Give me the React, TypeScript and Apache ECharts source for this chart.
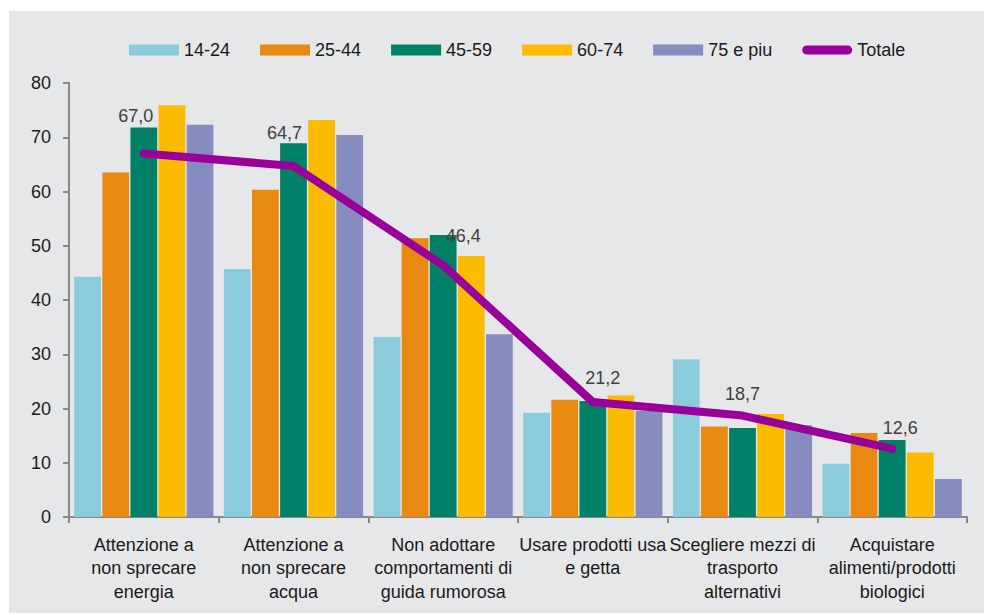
import React, { useEffect, useRef } from "react";
import * as echarts from "echarts";

const categories = [
  "Attenzione a\nnon sprecare\nenergia",
  "Attenzione a\nnon sprecare\nacqua",
  "Non adottare\ncomportamenti di\nguida rumorosa",
  "Usare prodotti usa\ne getta",
  "Scegliere mezzi di\ntrasporto\nalternativi",
  "Acquistare\nalimenti/prodotti\nbiologici",
];

const seriesNames = ["14-24", "25-44", "45-59", "60-74", "75 e piu"];
const v1424 = [44.3, 45.7, 33.2, 19.2, 29.1, 9.8];
const v2544 = [63.5, 60.3, 51.4, 21.6, 16.7, 15.5];
const v4559 = [71.8, 68.9, 52.0, 21.4, 16.4, 14.2];
const v6074 = [75.9, 73.2, 48.1, 22.4, 19.0, 11.9];
const v75 = [72.3, 70.4, 33.7, 19.6, 16.9, 7.0];
const totale = [67.0, 64.7, 46.4, 21.2, 18.7, 12.6];
const barColors = ["#8ccbdc", "#e88a12", "#008066", "#fbbb00", "#878cc0"];
const lineColor = "#990099";
const yTicks = { min: 0, max: 80, interval: 10 };
// label placement (style only)
const labelOffsets: [number, number][] = [
  [-8, -23],
  [-9, -19],
  [20, -15],
  [10, -9],
  [0, -7],
  [8, -6],
];

export default function App() {
  const ref = useRef<HTMLDivElement>(null);
  useEffect(() => {
    if (!ref.current) return;
    const chart = echarts.init(ref.current, null, { renderer: "svg" });
    const barData = [v1424, v2544, v4559, v6074, v75];
    const font = "'Liberation Sans', Arial, sans-serif";
    chart.setOption({
      animation: false,
      backgroundColor: "#ffffff",
      textStyle: { fontFamily: font },
      graphic: [
        {
          type: "rect",
          shape: { x: 9, y: 11, width: 975, height: 602 },
          style: { fill: "#e6e7e9" },
          z: -10,
          silent: true,
        },
      ],
      legend: {
        left: 124,
        top: 36,
        itemWidth: 50,
        itemHeight: 11,
        itemGap: 30,
        textStyle: { fontSize: 18, color: "#1a1a1a", fontFamily: font },
        data: [
          ...seriesNames.map((n) => ({ name: n, icon: "rect" })),
          {
            name: "Totale",
            icon: "path://M5,0 L50,0 A5,5 0 0 1 50,10 L5,10 A5,5 0 0 1 5,0 Z",
          },
        ],
      },
      grid: { left: 69, right: 17, top: 83, bottom: 98, containLabel: false },
      xAxis: {
        type: "category",
        data: categories,
        axisLine: { show: true, lineStyle: { color: "#898989", width: 2 } },
        axisTick: { show: true, length: 6, lineStyle: { color: "#898989", width: 2 } },
        axisLabel: {
          fontSize: 18,
          lineHeight: 23.5,
          color: "#1a1a1a",
          margin: 16,
          interval: 0,
          fontFamily: font,
        },
      },
      yAxis: {
        type: "value",
        min: yTicks.min,
        max: yTicks.max,
        interval: yTicks.interval,
        splitLine: { show: false },
        axisLine: { show: true, lineStyle: { color: "#898989", width: 2 } },
        axisTick: { show: true, length: 6, lineStyle: { color: "#898989", width: 2 } },
        axisLabel: { fontSize: 18, color: "#1a1a1a", margin: 18, fontFamily: font },
      },
      series: [
        ...seriesNames.map((n, i) => ({
          name: n,
          type: "bar",
          data: barData[i],
          barGap: "5%",
          barCategoryGap: "7%",
          itemStyle: { color: barColors[i] },
        })),
        {
          name: "Totale",
          type: "line",
          data: totale.map((v, i) => ({ value: v, label: { offset: labelOffsets[i] } })),
          z: 5,
          symbol: "circle",
          symbolSize: 1,
          itemStyle: { color: lineColor },
          lineStyle: { color: lineColor, width: 8, cap: "round", join: "round" },
          label: {
            show: true,
            position: "top",
            fontSize: 18,
            color: "#404040",
            fontFamily: font,
            formatter: (p: any) => Number(p.value).toFixed(1).replace(".", ","),
          },
        },
      ],
    });
    return () => chart.dispose();
  }, []);
  return (
    <div
      ref={ref}
      style={{ position: "absolute", left: 0, top: 0, width: 984, height: 615 }}
    />
  );
}
